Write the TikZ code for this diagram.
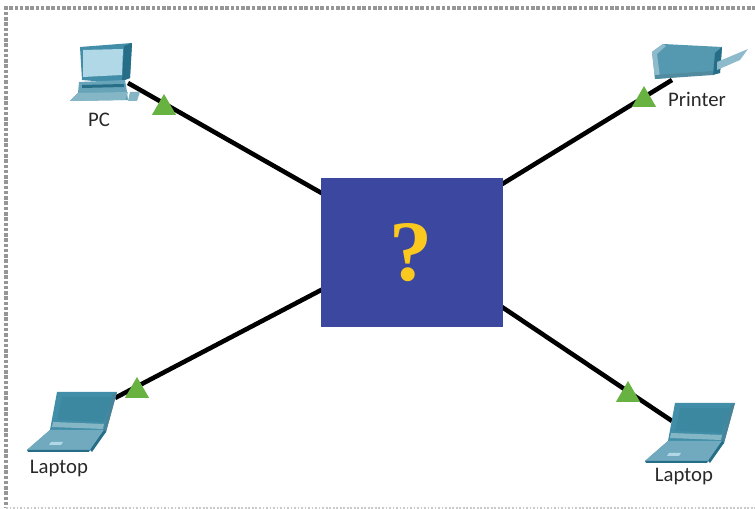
\documentclass[tikz,border=0pt]{standalone}
\usepackage{fontspec}
\setmainfont{Carlito}
\newfontfamily\markfont{Liberation Serif}
\usepackage{tikz}
\usetikzlibrary{shapes.geometric, positioning}
\definecolor{hubblue}{RGB}{60,72,160}
\definecolor{markyellow}{RGB}{250,200,30}
\definecolor{linkgreen}{RGB}{104,178,66}
\definecolor{iconteal}{RGB}{66,142,168}
\definecolor{icondark}{RGB}{38,110,135}
\definecolor{iconlight}{RGB}{176,216,230}
\definecolor{framegray}{RGB}{150,150,150}
\definecolor{labelgray}{RGB}{40,40,40}

\begin{document}
\begin{tikzpicture}[
    x=0.02cm, y=-0.02cm,
    % Styles
    hub/.style={
        fill=hubblue, minimum width=3.64cm, minimum height=2.98cm,
        inner sep=0pt
    },
    link/.style={
        line width=2.6pt, black
    },
    uplink/.style={
        regular polygon, regular polygon sides=3, fill=linkgreen,
        minimum size=0.56cm, inner sep=0pt
    },
    devlabel/.style={
        font=\fontsize{11.8}{13}\selectfont, text=labelgray, inner sep=0pt
    },
    laptopicon/.pic={
        \fill[iconteal] (30,0) -- (90,0) -- (79,40) -- (63,58) -- (0,58) -- (23,38) -- cycle;
        \fill[icondark!85] (85,3) -- (90,0) -- (79,40) -- (76,40) -- cycle;
        \fill[iconteal!80!icondark] (35,5) -- (85,5) -- (77,30) -- (30,28) -- cycle;
        \fill[iconteal!65!white] (26,30) -- (77,32) -- (76,37) -- (25,35) -- cycle;
        \fill[iconteal!75!white] (0,58) -- (23,38) -- (77,38) -- (63,58) -- cycle;
        \fill[iconlight] (24,50) -- (36,50) -- (34,53) -- (22,53) -- cycle;
        \fill[icondark] (0,58) -- (63,58) -- (62,60) -- (1,60) -- cycle;
        \fill[icondark] (63,58) -- (77,38) -- (79,40) -- (65,60) -- cycle;
    }
]
\useasboundingbox (0,0) rectangle (755,509);

% Frame
\draw[framegray, line width=2pt, densely dotted] (756,8) -- (6,8) -- (6,508);
\draw[framegray!50, line width=1pt, densely dotted] (6,508) -- (756,508);

% Anchors on the device icons and on the hub
\coordinate (pc) at (128,83);
\coordinate (printer) at (672,80);
\coordinate (laptopl) at (115,398);
\coordinate (laptopr) at (672,421);
\coordinate (hubnw) at (325,195);
\coordinate (hubne) at (499,186);
\coordinate (hubsw) at (325,288);
\coordinate (hubse) at (499,305);

% Links
\draw[link] (pc) -- (hubnw);
\draw[link] (printer) -- (hubne);
\draw[link] (laptopl) -- (hubsw);
\draw[link] (laptopr) -- (hubse);

% Centre box
\node[hub] (centre) at (412,252.5) {};
\node[text=markyellow, inner sep=0pt] (query) at (411,253)
    {\markfont\bfseries\fontsize{49}{49}\selectfont ?};

% Link lights
\node[uplink] (up1) at (164,108) {};
\node[uplink] (up2) at (644,100) {};
\node[uplink] (up3) at (137,391) {};
\node[uplink] (up4) at (628,395) {};

% PC
\fill[iconteal] (80,47) -- (132,43) -- (130,78) -- (117,83) -- (82,80) -- cycle;
\fill[icondark] (124,46) -- (132,43) -- (130,78) -- (122,81) -- cycle;
\fill[iconlight] (83,50) -- (123,49) -- (122,75) -- (83,77) -- cycle;
\fill[iconteal!80!white] (79,82) -- (125,80) -- (127,92) -- (128,100) -- (70,101) -- (78,93) -- cycle;
\fill[icondark] (82,85) -- (124,84) -- (124,87) -- (82,88) -- cycle;
\fill[iconteal!65!white] (70,101) -- (78,93) -- (128,92) -- (125,100) -- cycle;
\fill[iconteal!65!white] (130,92) -- (140,92) -- (137,101) -- (128,101) -- cycle;
\node[devlabel] (pclabel) at (99,120) {PC};

% Printer
\fill[iconteal!90!white] (652,52) -- (663,44) -- (722,47) -- (720,73) -- (655,79) -- cycle;
\fill[iconteal!60!white] (652,52) -- (663,44) -- (666,46) -- (657,54) -- (660,77) -- (655,79) -- cycle;
\fill[icondark] (715,53) -- (722,47) -- (720,73) -- (713,75) -- cycle;
\fill[icondark!80] (655,75) -- (713,71) -- (713,75) -- (655,79) -- cycle;
\fill[iconteal!60!white] (717,62) -- (748,49) -- (740,60) -- (717,70) -- cycle;
\node[devlabel] (printerlabel) at (697,99) {Printer};

% Laptops
\pic at (27,392) {laptopicon};
\node[devlabel] (laptoplabell) at (59,469) {Laptop};
\pic at (645,403) {laptopicon};
\node[devlabel] (laptoplabelr) at (684,477) {Laptop};

\end{tikzpicture}
\end{document}
